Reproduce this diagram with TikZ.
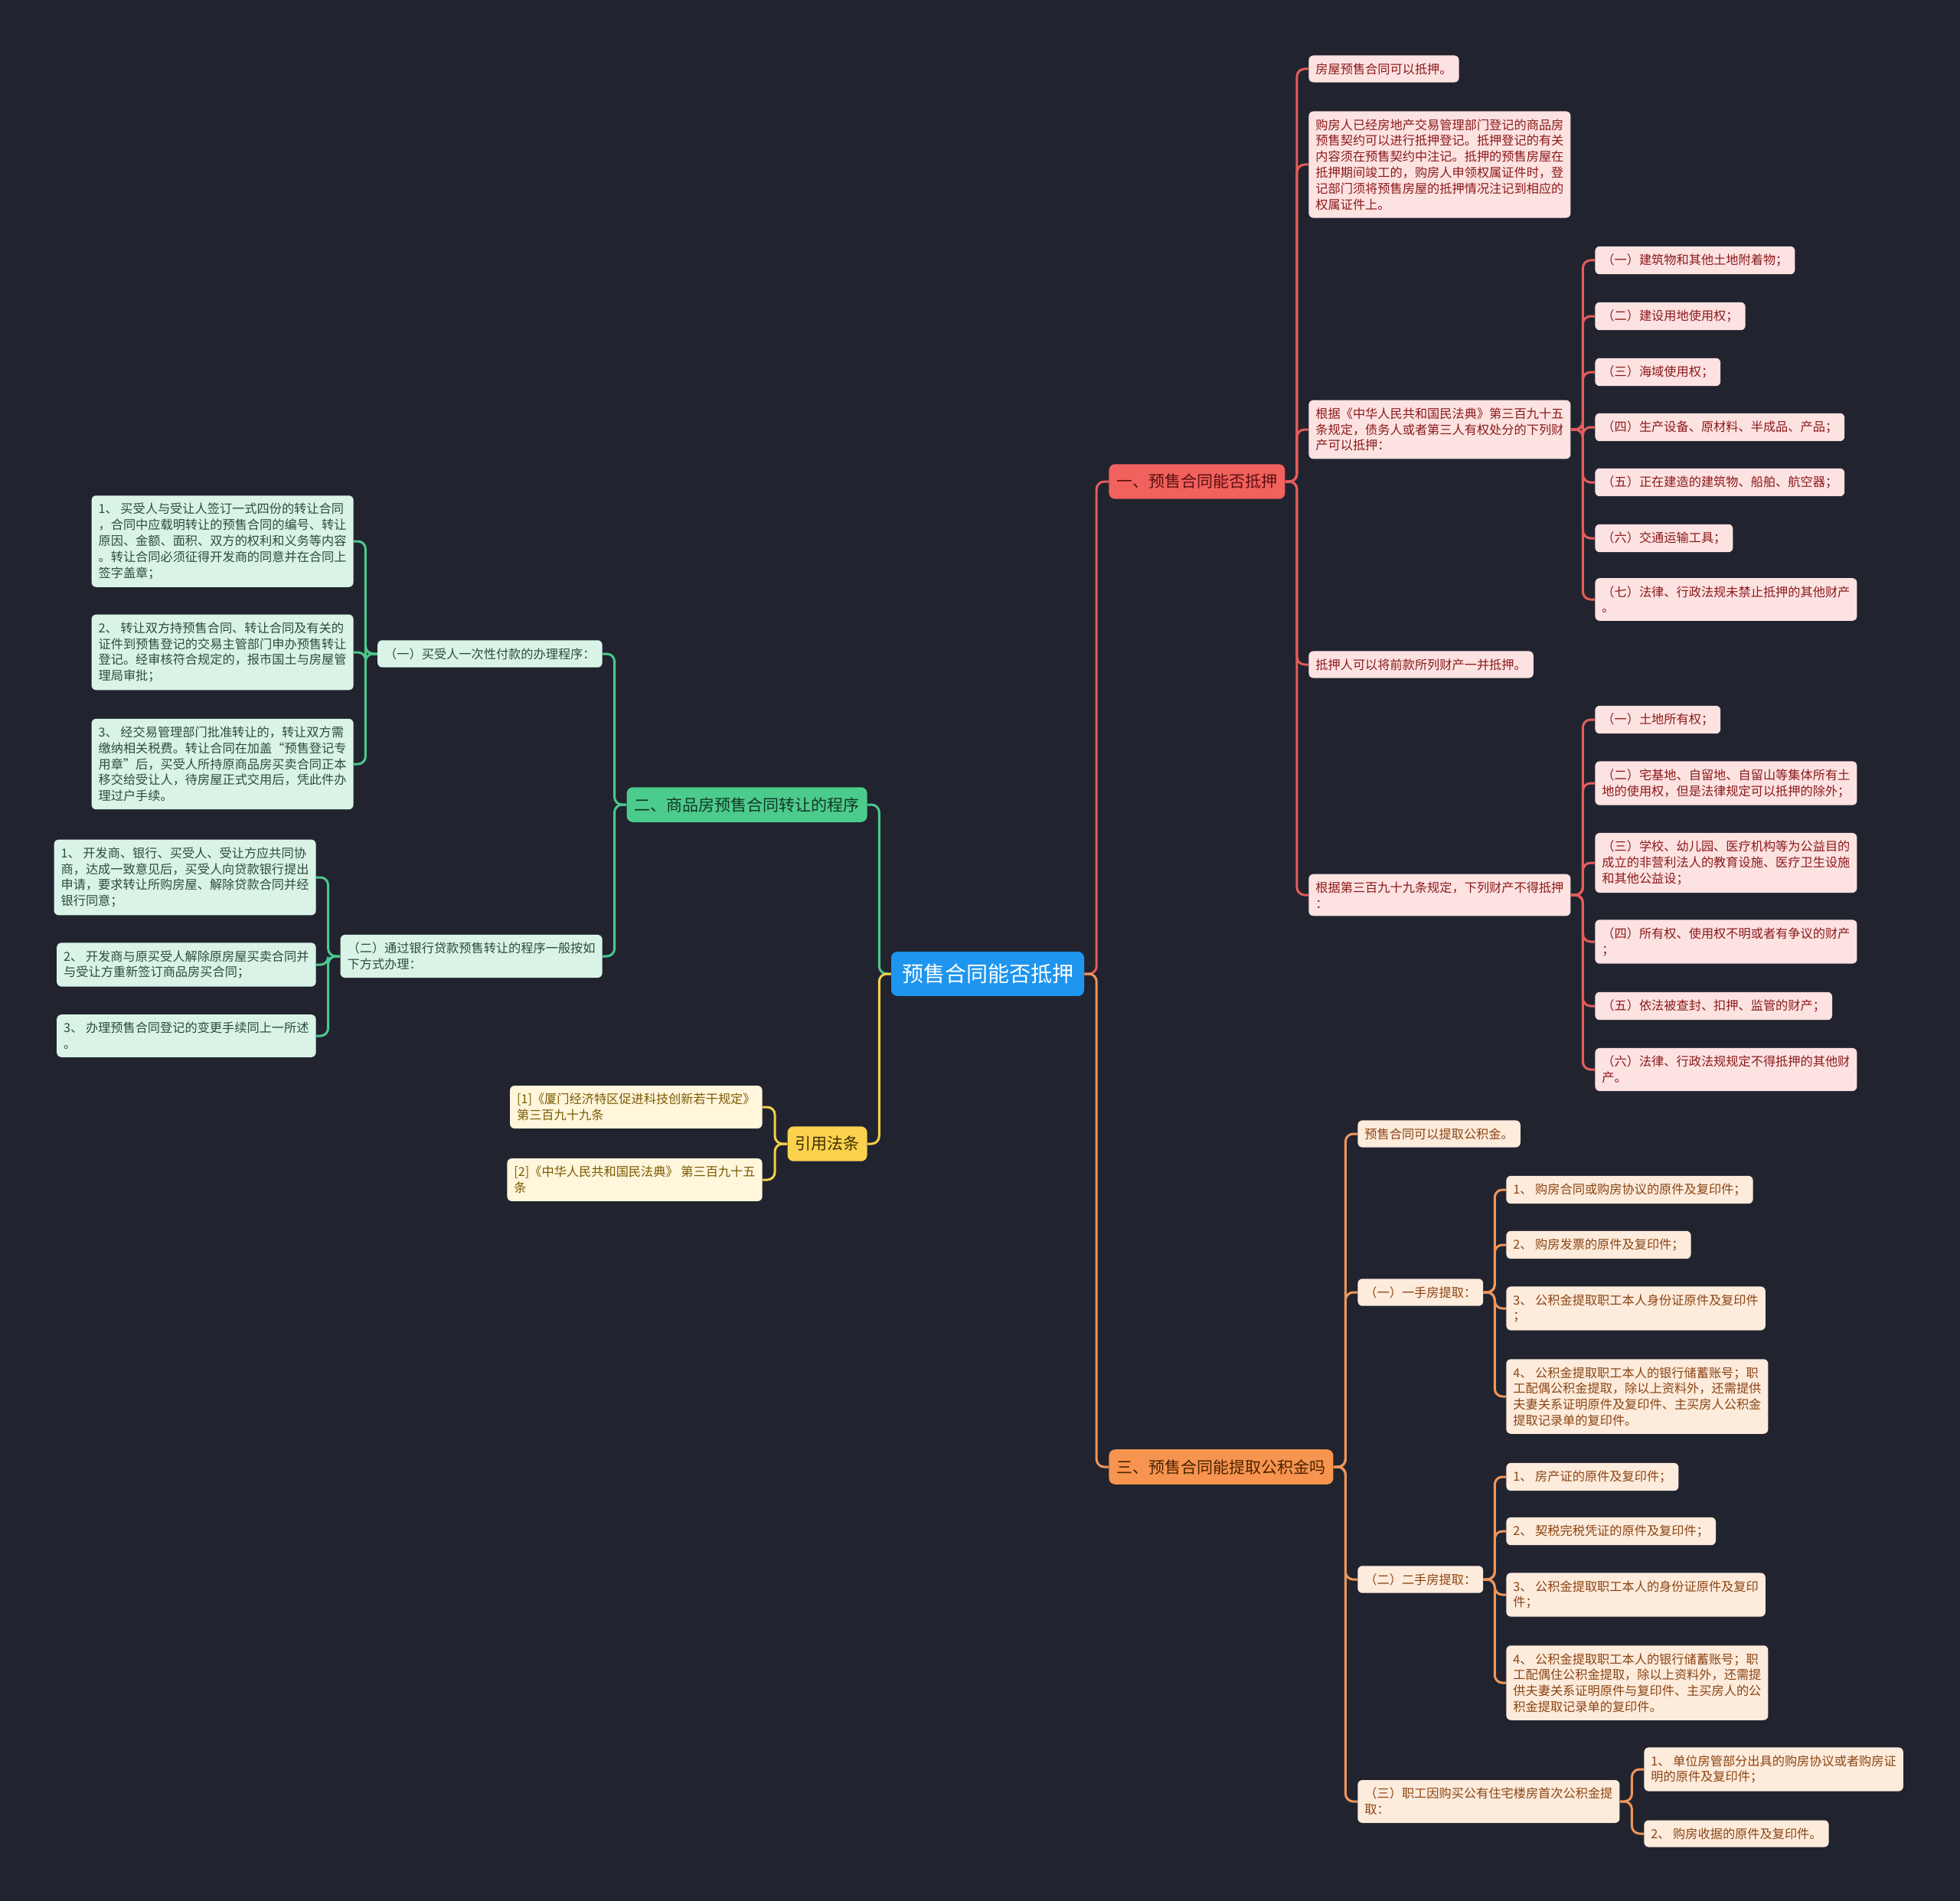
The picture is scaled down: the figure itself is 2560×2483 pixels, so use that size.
\documentclass[tikz,border=0pt]{standalone}
\usepackage{fontspec}
\setmainfont{Noto Sans CJK SC}
\usetikzlibrary{calc}
\definecolor{bg}{HTML}{21242F}
\definecolor{rootc}{HTML}{1E95EF}
\definecolor{redm}{HTML}{F1615E}
\definecolor{greenm}{HTML}{4CCC8C}
\definecolor{yellowm}{HTML}{FBD24E}
\definecolor{orangem}{HTML}{F7944F}
\definecolor{redl}{HTML}{FDE2E2}
\definecolor{greenl}{HTML}{D9F4E7}
\definecolor{yellowl}{HTML}{FFF6DC}
\definecolor{orangel}{HTML}{FDEBDC}
\definecolor{redt}{HTML}{8B1A1A}
\definecolor{greent}{HTML}{2B4D3B}
\definecolor{yellowt}{HTML}{7B5A00}
\definecolor{oranget}{HTML}{8B4513}
\definecolor{redmt}{HTML}{5C0F0F}
\definecolor{greenmt}{HTML}{143626}
\definecolor{yellowmt}{HTML}{3D2E00}
\definecolor{orangemt}{HTML}{4A2200}
\definecolor{redln}{HTML}{E35D5B}
\definecolor{greenln}{HTML}{4CC88C}
\definecolor{yellowln}{HTML}{F6CF48}
\definecolor{orangeln}{HTML}{F0965A}
\tikzset{
  leaf/.style={rounded corners=3pt, inner xsep=4.5pt, inner ysep=5pt, align=left, font=\fontsize{8.1}{10.4}\selectfont},
  mainnode/.style={rounded corners=4pt, inner xsep=5pt, inner ysep=6.5pt, font=\fontsize{10.5}{13}\selectfont},
  rleaf/.style={leaf, fill=redl, text=redt},
  gleaf/.style={leaf, fill=greenl, text=greent},
  yleaf/.style={leaf, fill=yellowl, text=yellowt},
  oleaf/.style={leaf, fill=orangel, text=oranget},
  elbow/.style={to path={let \p1=(\tikztostart), \p2=(\tikztotarget) in -- ({0.5*\x1+0.5*\x2},\y1) -- ({0.5*\x1+0.5*\x2},\y2) -- (\tikztotarget)}},
  link/.style={line width=1.5pt, rounded corners=5pt},
  rlink/.style={link, draw=redln},
  glink/.style={link, draw=greenln},
  ylink/.style={link, draw=yellowln},
  olink/.style={link, draw=orangeln},
}
\begin{document}
\begin{tikzpicture}[x=0.5pt, y=-0.5pt]
\fill[bg] (0,0) rectangle (2560,2483);
\useasboundingbox (0,0) rectangle (2560,2483);

% root
\node[rounded corners=4pt, fill=rootc, text=white, inner xsep=7pt, inner ysep=8pt, font=\fontsize{14}{16}\selectfont] (root) at (1290,1272) {预售合同能否抵押};

% main branches
\node[mainnode, fill=redm, text=redmt, anchor=west] (r) at (1448,629) {一、预售合同能否抵押};
\node[mainnode, fill=orangem, text=orangemt, anchor=west] (o) at (1448,1916) {三、预售合同能提取公积金吗};
\node[mainnode, fill=greenm, text=greenmt, anchor=east] (g) at (1133,1051) {二、商品房预售合同转让的程序};
\node[mainnode, fill=yellowm, text=yellowmt, anchor=east] (y) at (1133,1494) {引用法条};

% red level 2
\node[rleaf, anchor=west] (r1) at (1709,90) {房屋预售合同可以抵押。};
\node[rleaf, anchor=west] (r2) at (1709,215) {购房人已经房地产交易管理部门登记的商品房\\预售契约可以进行抵押登记。抵押登记的有关\\内容须在预售契约中注记。抵押的预售房屋在\\抵押期间竣工的，购房人申领权属证件时，登\\记部门须将预售房屋的抵押情况注记到相应的\\权属证件上。};
\node[rleaf, anchor=west] (r3) at (1709,561) {根据《中华人民共和国民法典》第三百九十五\\条规定，债务人或者第三人有权处分的下列财\\产可以抵押：};
\node[rleaf, anchor=west] (r4) at (1709,868) {抵押人可以将前款所列财产一并抵押。};
\node[rleaf, anchor=west] (r5) at (1709,1169) {根据第三百九十九条规定，下列财产不得抵押\\：};

% red level 3 (r3)
\node[rleaf, anchor=west] (r31) at (2083,340) {（一）建筑物和其他土地附着物；};
\node[rleaf, anchor=west] (r32) at (2083,413) {（二）建设用地使用权；};
\node[rleaf, anchor=west] (r33) at (2083,486) {（三）海域使用权；};
\node[rleaf, anchor=west] (r34) at (2083,558) {（四）生产设备、原材料、半成品、产品；};
\node[rleaf, anchor=west] (r35) at (2083,630) {（五）正在建造的建筑物、船舶、航空器；};
\node[rleaf, anchor=west] (r36) at (2083,703) {（六）交通运输工具；};
\node[rleaf, anchor=west] (r37) at (2083,783) {（七）法律、行政法规未禁止抵押的其他财产\\。};

% red level 3 (r5)
\node[rleaf, anchor=west] (r51) at (2083,940) {（一）土地所有权；};
\node[rleaf, anchor=west] (r52) at (2083,1023) {（二）宅基地、自留地、自留山等集体所有土\\地的使用权，但是法律规定可以抵押的除外；};
\node[rleaf, anchor=west] (r53) at (2083,1127) {（三）学校、幼儿园、医疗机构等为公益目的\\成立的非营利法人的教育设施、医疗卫生设施\\和其他公益设；};
\node[rleaf, anchor=west] (r54) at (2083,1230) {（四）所有权、使用权不明或者有争议的财产\\；};
\node[rleaf, anchor=west] (r55) at (2083,1314) {（五）依法被查封、扣押、监管的财产；};
\node[rleaf, anchor=west] (r56) at (2083,1397) {（六）法律、行政法规规定不得抵押的其他财\\产。};

% orange level 2
\node[oleaf, anchor=west] (o1) at (1773,1481) {预售合同可以提取公积金。};
\node[oleaf, anchor=west] (o2) at (1773,1688) {（一）一手房提取：};
\node[oleaf, anchor=west] (o3) at (1773,2063) {（二）二手房提取：};
\node[oleaf, anchor=west] (o4) at (1773,2353) {（三）职工因购买公有住宅楼房首次公积金提\\取：};

% orange level 3
\node[oleaf, anchor=west] (o21) at (1967,1554) {1、 购房合同或购房协议的原件及复印件；};
\node[oleaf, anchor=west] (o22) at (1967,1626) {2、 购房发票的原件及复印件；};
\node[oleaf, anchor=west] (o23) at (1967,1709) {3、 公积金提取职工本人身份证原件及复印件\\；};
\node[oleaf, anchor=west] (o24) at (1967,1824) {4、 公积金提取职工本人的银行储蓄账号；职\\工配偶公积金提取，除以上资料外，还需提供\\夫妻关系证明原件及复印件、主买房人公积金\\提取记录单的复印件。};
\node[oleaf, anchor=west] (o31) at (1967,1929) {1、 房产证的原件及复印件；};
\node[oleaf, anchor=west] (o32) at (1967,2000) {2、 契税完税凭证的原件及复印件；};
\node[oleaf, anchor=west] (o33) at (1967,2083) {3、 公积金提取职工本人的身份证原件及复印\\件；};
\node[oleaf, anchor=west] (o34) at (1967,2198) {4、 公积金提取职工本人的银行储蓄账号；职\\工配偶住公积金提取，除以上资料外，还需提\\供夫妻关系证明原件与复印件、主买房人的公\\积金提取记录单的复印件。};
\node[oleaf, anchor=west] (o41) at (2147,2311) {1、 单位房管部分出具的购房协议或者购房证\\明的原件及复印件；};
\node[oleaf, anchor=west] (o42) at (2147,2395) {2、 购房收据的原件及复印件。};

% green level 2
\node[gleaf, anchor=east] (g1) at (787,854) {（一）买受人一次性付款的办理程序：};
\node[gleaf, anchor=east] (g2) at (787,1249) {（二）通过银行贷款预售转让的程序一般按如\\下方式办理：};

% green level 3
\node[gleaf, anchor=east] (g11) at (462,707) {1、 买受人与受让人签订一式四份的转让合同\\，合同中应载明转让的预售合同的编号、转让\\原因、金额、面积、双方的权利和义务等内容\\。转让合同必须征得开发商的同意并在合同上\\签字盖章；};
\node[gleaf, anchor=east] (g12) at (462,852) {2、 转让双方持预售合同、转让合同及有关的\\证件到预售登记的交易主管部门申办预售转让\\登记。经审核符合规定的，报市国土与房屋管\\理局审批；};
\node[gleaf, anchor=east] (g13) at (462,998) {3、 经交易管理部门批准转让的，转让双方需\\缴纳相关税费。转让合同在加盖“预售登记专\\用章”后，买受人所持原商品房买卖合同正本\\移交给受让人，待房屋正式交用后，凭此件办\\理过户手续。};
\node[gleaf, anchor=east] (g21) at (413,1146) {1、 开发商、银行、买受人、受让方应共同协\\商，达成一致意见后，买受人向贷款银行提出\\申请，要求转让所购房屋、解除贷款合同并经\\银行同意；};
\node[gleaf, anchor=east] (g22) at (413,1260) {2、 开发商与原买受人解除原房屋买卖合同并\\与受让方重新签订商品房买合同；};
\node[gleaf, anchor=east] (g23) at (413,1353) {3、 办理预售合同登记的变更手续同上一所述\\。};

% yellow level 2
\node[yleaf, anchor=east] (y1) at (996,1446) {[1]《厦门经济特区促进科技创新若干规定》\\第三百九十九条};
\node[yleaf, anchor=east] (y2) at (996,1541) {[2]《中华人民共和国民法典》 第三百九十五\\条};

% connectors
\draw[rlink] (root.east) to[elbow] (r.west);
\draw[olink] (root.east) to[elbow] (o.west);
\draw[glink] (root.west) to[elbow] (g.east);
\draw[ylink] (root.west) to[elbow] (y.east);

\foreach \c in {r1,r2,r3,r4,r5} \draw[rlink] (r.east) to[elbow] (\c.west);
\foreach \c in {r31,r32,r33,r34,r35,r36,r37} \draw[rlink] (r3.east) to[elbow] (\c.west);
\foreach \c in {r51,r52,r53,r54,r55,r56} \draw[rlink] (r5.east) to[elbow] (\c.west);

\foreach \c in {o1,o2,o3,o4} \draw[olink] (o.east) to[elbow] (\c.west);
\foreach \c in {o21,o22,o23,o24} \draw[olink] (o2.east) to[elbow] (\c.west);
\foreach \c in {o31,o32,o33,o34} \draw[olink] (o3.east) to[elbow] (\c.west);
\foreach \c in {o41,o42} \draw[olink] (o4.east) to[elbow] (\c.west);

\foreach \c in {g1,g2} \draw[glink] (g.west) to[elbow] (\c.east);
\foreach \c in {g11,g12,g13} \draw[glink] (g1.west) to[elbow] (\c.east);
\foreach \c in {g21,g22,g23} \draw[glink] (g2.west) to[elbow] (\c.east);

\foreach \c in {y1,y2} \draw[ylink] (y.west) to[elbow] (\c.east);
\end{tikzpicture}
\end{document}
